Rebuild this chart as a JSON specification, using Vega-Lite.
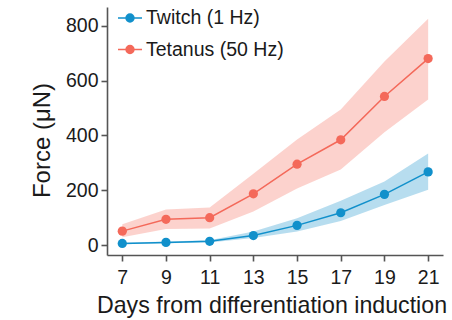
{
  "$schema": "https://vega.github.io/schema/vega-lite/v6.json",
  "autosize": "none",
  "width": 336,
  "height": 248,
  "padding": {"left": 107, "top": 7, "right": 9, "bottom": 65},
  "config": {
    "view": {"stroke": null},
    "font": "Liberation Sans",
    "axis": {
      "grid": false,
      "domainColor": "#555555",
      "domainWidth": 1.6,
      "tickColor": "#555555",
      "tickWidth": 1.6,
      "tickSize": 6,
      "labelFont": "Liberation Sans",
      "labelFontSize": 19.5,
      "labelColor": "#1a1a1a",
      "titleFont": "Liberation Sans",
      "titleFontWeight": "normal",
      "titleColor": "#1a1a1a"
    }
  },
  "data": {
    "values": [
      {"day": 7, "series": "Twitch (1 Hz)", "mean": 6, "lo": 3, "hi": 9},
      {"day": 9, "series": "Twitch (1 Hz)", "mean": 10, "lo": 7, "hi": 13},
      {"day": 11, "series": "Twitch (1 Hz)", "mean": 14, "lo": 10, "hi": 18},
      {"day": 13, "series": "Twitch (1 Hz)", "mean": 35, "lo": 26, "hi": 50},
      {"day": 15, "series": "Twitch (1 Hz)", "mean": 72, "lo": 50, "hi": 98},
      {"day": 17, "series": "Twitch (1 Hz)", "mean": 118, "lo": 88, "hi": 162},
      {"day": 19, "series": "Twitch (1 Hz)", "mean": 185, "lo": 146, "hi": 232},
      {"day": 21, "series": "Twitch (1 Hz)", "mean": 267, "lo": 202, "hi": 334},
      {"day": 7, "series": "Tetanus (50 Hz)", "mean": 51, "lo": 29, "hi": 76},
      {"day": 9, "series": "Tetanus (50 Hz)", "mean": 94, "lo": 59, "hi": 130},
      {"day": 11, "series": "Tetanus (50 Hz)", "mean": 100, "lo": 61, "hi": 137},
      {"day": 13, "series": "Tetanus (50 Hz)", "mean": 187, "lo": 123, "hi": 260},
      {"day": 15, "series": "Tetanus (50 Hz)", "mean": 295, "lo": 206, "hi": 385},
      {"day": 17, "series": "Tetanus (50 Hz)", "mean": 384, "lo": 276, "hi": 494},
      {"day": 19, "series": "Tetanus (50 Hz)", "mean": 542, "lo": 411, "hi": 669},
      {"day": 21, "series": "Tetanus (50 Hz)", "mean": 680, "lo": 531, "hi": 825}
    ]
  },
  "encoding": {
    "x": {
      "field": "day",
      "type": "quantitative",
      "scale": {"domain": [6.3, 21.68], "nice": false, "zero": false},
      "axis": {
        "values": [7, 9, 11, 13, 15, 17, 19, 21],
        "title": "Days from differentiation induction",
        "titleFontSize": 23.2,
        "titlePadding": 8,
        "titleX": 164.5,
        "labelPadding": 7,
        "labelFlush": false
      }
    },
    "color": {
      "field": "series",
      "type": "nominal",
      "scale": {
        "domain": ["Twitch (1 Hz)", "Tetanus (50 Hz)"],
        "range": ["#1190cb", "#f4695a"]
      },
      "legend": {
        "title": null,
        "orient": "none",
        "legendX": 10,
        "legendY": -2,
        "symbolType": "M-1,0H-0.33M0.33,0H1M-0.33,0A0.33,0.33,0,1,0,0.33,0A0.33,0.33,0,1,0,-0.33,0Z",
        "symbolSize": 576,
        "symbolStrokeWidth": 1.5,
        "labelFontSize": 19.5,
        "labelFont": "Liberation Sans",
        "labelColor": "#1a1a1a",
        "labelOffset": 3,
        "rowPadding": 8.5,
        "encode": {
          "symbols": {
            "update": {
              "fill": {"scale": "color", "field": "value"},
              "stroke": {"scale": "color", "field": "value"},
              "opacity": {"value": 1},
              "fillOpacity": {"value": 1},
              "strokeOpacity": {"value": 1}
            }
          }
        }
      }
    }
  },
  "layer": [
    {
      "mark": {"type": "area", "opacity": 0.3},
      "encoding": {
        "y": {"field": "lo", "type": "quantitative"},
        "y2": {"field": "hi"}
      }
    },
    {
      "mark": {"type": "line", "strokeWidth": 1.5},
      "encoding": {
        "y": {
          "field": "mean",
          "type": "quantitative",
          "scale": {"domain": [-36, 868], "nice": false, "zero": false},
          "axis": {
            "values": [0, 200, 400, 600, 800],
            "title": "Force (μN)",
            "titleFontSize": 24,
            "titleX": -58,
            "titleY": 133,
            "titleBaseline": "alphabetic",
            "labelPadding": 3
          }
        }
      }
    },
    {
      "mark": {"type": "point", "filled": true, "size": 85, "opacity": 1},
      "encoding": {
        "y": {"field": "mean", "type": "quantitative"}
      }
    }
  ]
}
